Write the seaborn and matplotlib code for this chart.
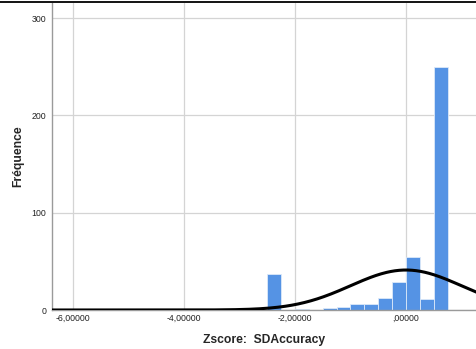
import numpy as np
import pandas as pd
import matplotlib
matplotlib.use("Agg")
import matplotlib.pyplot as plt
from matplotlib.lines import Line2D
import seaborn as sns

# Histogram of standardized SDAccuracy scores (bin width 0.25)
bin_width = 0.25
bin_starts = [-5.50, -2.50, -2.00, -1.50, -1.25, -1.00, -0.75,
              -0.50, -0.25, 0.00, 0.25, 0.50]
counts = [1, 37, 1, 2, 3, 6, 6, 12, 29, 54, 11, 250]

x_ticks = [-6.0, -4.0, -2.0, 0.0]
x_tick_labels = ["-6,00000", "-4,00000", "-2,00000", ",00000"]
y_ticks = [0, 100, 200, 300]

curve_mean = 0.0
curve_sd = 1.0

df = pd.DataFrame({"centre": np.array(bin_starts) + bin_width / 2,
                   "n": counts})
n_total = df["n"].sum()

sns.set_style("white")
plt.rcParams["font.family"] = ["Liberation Sans", "DejaVu Sans"]

fig = plt.figure(figsize=(4.77, 3.49), dpi=100)
ax = fig.add_axes([52 / 477, 1 - 310 / 349, 1 - 52 / 477, (310 - 3) / 349])

xmin, xmax = -6.38, 1.28
sns.histplot(data=df, x="centre", weights="n", binwidth=bin_width,
             binrange=(-6.5, 1.5), color="#5593e4", alpha=1.0,
             edgecolor="#dce9f9", linewidth=0.6, ax=ax, zorder=2)

# Normal curve scaled to counts
xs = np.linspace(xmin, xmax, 400)
ys = n_total * bin_width * np.exp(-0.5 * ((xs - curve_mean) / curve_sd) ** 2) / (curve_sd * np.sqrt(2 * np.pi))
sns.lineplot(x=xs, y=ys, color="black", linewidth=2.2, ax=ax, zorder=3)

ax.set_xlim(xmin, xmax)
ax.set_ylim(0, 315.5)
ax.set_xticks(x_ticks)
ax.set_xticklabels(x_tick_labels)
ax.set_yticks(y_ticks)
ax.grid(True, color="#d4d4d4", linewidth=0.9, zorder=0)
ax.set_axisbelow(True)
ax.tick_params(axis="both", length=0, labelsize=6.3, colors="#222222")
ax.tick_params(axis="x", pad=3)
ax.tick_params(axis="y", pad=4)

for side in ["top", "right"]:
    ax.spines[side].set_visible(False)
ax.spines["left"].set_color("#9a9a9a")
ax.spines["left"].set_linewidth(1.0)
ax.spines["bottom"].set_color("#9a9a9a")
ax.spines["bottom"].set_linewidth(1.0)

ax.set_xlabel("Zscore:  SDAccuracy", fontsize=8.7, fontweight="bold", labelpad=8)
ax.set_ylabel("Fréquence", fontsize=8.7, fontweight="bold", labelpad=5)

# Frame line across the top of the figure
fig.add_artist(Line2D([0, 1], [1 - 2 / 349, 1 - 2 / 349], transform=fig.transFigure,
                      color="black", linewidth=1.3))

fig.savefig("out.png", dpi=100)
